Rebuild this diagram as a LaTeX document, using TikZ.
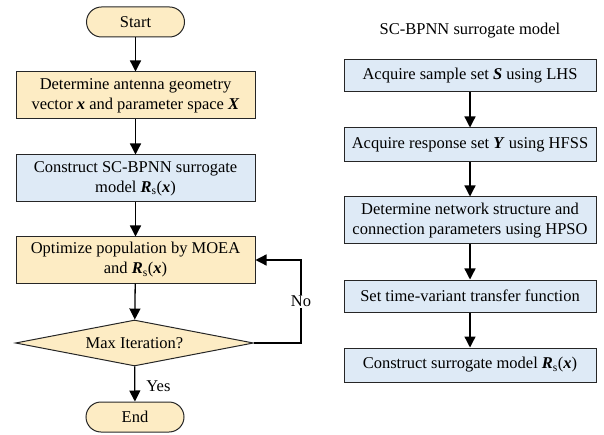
\documentclass[tikz,border=0pt]{standalone}
\usepackage{fontspec}
\setmainfont{Liberation Serif}
\usetikzlibrary{shapes.geometric,arrows.meta}
\definecolor{yel}{HTML}{FDECC4}
\definecolor{blu}{HTML}{DEEAF6}
\definecolor{bord}{HTML}{262626}
\newcommand{\bi}[1]{\textbf{\textit{#1}}}
\newcommand{\Rsx}{\bi{R}\textsubscript{s}(\bi{x})}
\begin{document}
\begin{tikzpicture}[x=1pt,y=-1pt,
  every node/.style={font=\fontsize{16.5}{20}\selectfont, align=center, inner sep=0pt},
  proc/.style={draw=bord, line width=1pt, rectangle, minimum width=239pt},
  yproc/.style={proc, fill=yel},
  bproc/.style={proc, fill=blu},
  term/.style={draw=bord, line width=1pt, fill=yel, rectangle, rounded corners=15pt, minimum width=98pt, minimum height=30pt},
  dec/.style={draw=bord, line width=1pt, fill=yel, diamond, aspect=5.2, minimum width=238pt, minimum height=46pt},
  rproc/.style={draw=bord, line width=1pt, rectangle, fill=blu, minimum width=252pt},
  arr/.style={-{Triangle[width=11pt,length=11pt]}, line width=1.3pt, black},
  lbl/.style={fill=white, inner sep=1pt}
]
\useasboundingbox (0,0) rectangle (604,435);
% left column
\node[term] (start) at (135.5,22) {Start};
\node[yproc, minimum height=47pt] (b1) at (135.5,95.5) {Determine antenna geometry\\vector \bi{x} and parameter space \bi{X}};
\node[bproc, minimum height=47pt] (b2) at (135.5,178.5) {Construct SC-BPNN surrogate\\model \Rsx};
\node[yproc, minimum height=46pt] (b3) at (135.5,260) {Optimize population by MOEA\\and \Rsx};
\node[dec] (dia) at (134.5,343) {Max Iteration?};
\node[term] (end) at (135,417) {End};
\coordinate (fbx) at (301,0);

\draw[arr] (start) -- (b1);
\draw[arr] (b1) -- (b2);
\draw[arr] (b2) -- (b3);
\draw[arr] (b3) -- (dia);
\draw[arr] (dia) -- node[right=11pt, pos=0.55] (yes) {Yes} (end);
\draw[arr] (dia.east) -- (dia.east -| fbx) -- node[lbl, pos=0.5] (no) {No} (b3.east -| fbx) -- (b3.east);

% right column
\node (title) at (470,31) {SC-BPNN surrogate model};
\node[rproc, minimum height=32pt] (r1) at (470,76) {Acquire sample set \bi{S} using LHS};
\node[rproc, minimum height=34pt] (r2) at (470,145) {Acquire response set \bi{Y} using HFSS};
\node[rproc, minimum height=47pt] (r3) at (470,220.5) {Determine network structure and\\connection parameters using HPSO};
\node[rproc, minimum height=32pt] (r4) at (470,296) {Set time-variant transfer function};
\node[rproc, minimum height=34pt] (r5) at (470,365) {Construct surrogate model \Rsx};

\draw[arr] (r1) -- (r2);
\draw[arr] (r2) -- (r3);
\draw[arr] (r3) -- (r4);
\draw[arr] (r4) -- (r5);
\end{tikzpicture}
\end{document}
